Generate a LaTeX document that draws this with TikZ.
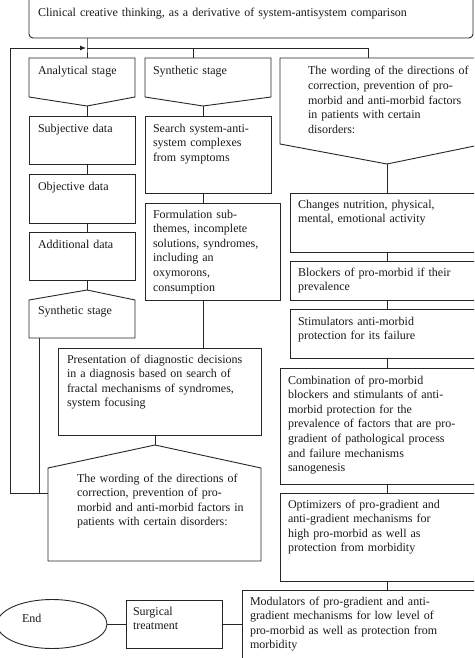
\documentclass[tikz,border=0pt]{standalone}
\usepackage{fontspec}
\setmainfont{Liberation Serif}
\usetikzlibrary{arrows.meta,shapes.geometric}
\begin{document}
\begin{tikzpicture}[x=1pt,y=-1pt,
  line/.style={draw=black!85,line width=0.9pt},
  box/.style={line,rectangle,inner sep=0pt,outer sep=0pt,anchor=north west},
  txt/.style={anchor=base west,inner sep=0pt,outer sep=0pt,text width=330pt,align=left,text=black!90,font=\fontsize{12}{14.6}\selectfont}]
\useasboundingbox (0,0) rectangle (474,658);
\clip (0,0) rectangle (474,658);
% top box
\node[box,rounded corners=4pt,minimum width=444pt,minimum height=43pt] (top) at (29,-5) {};
\node[txt,text width=440pt] (ttop) at (38,17) {Clinical creative thinking, as a derivative of system-antisystem comparison};
% key coordinates
\coordinate (j) at (87,48);
\coordinate (analT) at (87,58);
\coordinate (analB) at (87,106);
\coordinate (synthT) at (193,58);
\coordinate (synthB) at (203,106);
\coordinate (wordRT) at (368,58);
\coordinate (wordRB) at (387,164);
\coordinate (synthLT) at (87,290);
\coordinate (synthLB) at (39,338);
\coordinate (wordLT) at (155,445);
\coordinate (wordLW) at (48,493);
\coordinate (fb1) at (10,493);
\coordinate (fb2) at (10,48);
\coordinate (fb3) at (39,493);
% pentagons
\draw[line] (29,58) -- (135,58) -- (135,97) -- (analB) -- (29,97) -- cycle;
\draw[line] (145,58) -- (271,58) -- (271,97) -- (synthB) -- (145,97) -- cycle;
\draw[line] (280,58) -- (494,58) -- (494,142) -- (wordRB) -- (280,144) -- cycle;
\draw[line] (synthLT) -- (135,300) -- (135,338) -- (29,338) -- (29,300) -- cycle;
\draw[line] (wordLT) -- (261,468) -- (261,561) -- (48,561) -- (48,468) -- cycle;
\node[txt] (tanal) at (38,75) {Analytical stage};
\node[txt] (tsynth) at (153,75) {Synthetic stage};
\node[txt] (twordR) at (308,75) {The wording of the directions of\\correction, prevention of pro-\\morbid and anti-morbid factors\\in patients with certain\\disorders:};
\node[txt] (tsynthL) at (38,314) {Synthetic stage};
\node[txt] (twordL) at (77,482) {The wording of the directions of\\correction, prevention of pro-\\morbid and anti-morbid factors in\\patients with certain disorders:};
% rectangles
\node[box,minimum width=106pt,minimum height=48pt] (subj) at (29,116) {};
\node[box,minimum width=106pt,minimum height=49pt] (obj) at (29,174) {};
\node[box,minimum width=106pt,minimum height=48pt] (add) at (29,232) {};
\node[box,minimum width=126pt,minimum height=77pt] (search) at (145,116) {};
\node[box,minimum width=135pt,minimum height=97pt] (form) at (145,203) {};
\node[box,minimum width=203pt,minimum height=87pt] (pres) at (58,348) {};
\node[box,minimum width=200pt,minimum height=59pt] (changes) at (290,193) {};
\node[box,minimum width=200pt,minimum height=39pt] (block) at (290,261) {};
\node[box,minimum width=200pt,minimum height=49pt] (stim) at (290,309) {};
\node[box,minimum width=210pt,minimum height=116pt] (comb) at (280,368) {};
\node[box,minimum width=210pt,minimum height=88pt] (opt) at (280,493) {};
\node[box,minimum width=250pt,minimum height=80pt] (mod) at (242,590) {};
\node[box,minimum width=96pt,minimum height=48pt] (surg) at (126,600) {};
\node[line,ellipse,minimum width=110pt,minimum height=49pt,inner sep=0pt] (endn) at (52,624) {};
\node[txt] (tsubj) at (38,132) {Subjective data};
\node[txt] (tobj) at (38,190) {Objective data};
\node[txt] (tadd) at (38,248) {Additional data};
\node[txt] (tsearch) at (153,132) {Search system-anti-\\system complexes\\from symptoms};
\node[txt] (tform) at (153,218) {Formulation sub-\\themes, incomplete\\solutions, syndromes,\\including an\\oxymorons,\\consumption};
\node[txt] (tpres) at (67,363) {Presentation of diagnostic decisions\\in a diagnosis based on search of\\fractal mechanisms of syndromes,\\system focusing};
\node[txt] (tchanges) at (298,208) {Changes nutrition, physical,\\mental, emotional activity};
\node[txt] (tblock) at (298,276) {Blockers of pro-morbid if their\\prevalence};
\node[txt] (tstim) at (298,325) {Stimulators anti-morbid\\protection for its failure};
\node[txt] (tcomb) at (288,384) {Combination of pro-morbid\\blockers and stimulants of anti-\\morbid protection for the\\prevalence of factors that are pro-\\gradient of pathological process\\and failure mechanisms\\sanogenesis};
\node[txt] (topt) at (288,508) {Optimizers of pro-gradient and\\anti-gradient mechanisms for\\high pro-morbid as well as\\protection from morbidity};
\node[txt] (tmod) at (250,605) {Modulators of pro-gradient and anti-\\gradient mechanisms for low level of\\pro-morbid as well as protection from\\morbidity};
\node[txt] (tsurg) at (133,615) {Surgical\\treatment};
\node[txt] (tend) at (22,622) {End};
% connectors
\draw[line] (j |- top.south) -- (j) -- (analT);
\draw[line] (j) -- (synthT |- j) -- (synthT);
\draw[line] (synthT |- j) -- (wordRT |- j) -- (wordRT);
\draw[line] (analB) -- (analB |- subj.north);
\draw[line] (analB |- subj.south) -- (analB |- obj.north);
\draw[line] (analB |- obj.south) -- (analB |- add.north);
\draw[line] (analB |- add.south) -- (synthLT);
\draw[line] (synthB) -- (synthB |- search.north);
\draw[line] (synthB |- search.south) -- (synthB |- form.north);
\draw[line] (synthB |- form.south) -- (synthB |- pres.north);
\draw[line] (wordLT |- pres.south) -- (wordLT);
\draw[line] (wordRB) -- (wordRB |- changes.north);
\draw[line] (wordRB |- changes.south) -- (wordRB |- block.north);
\draw[line] (wordRB |- block.south) -- (wordRB |- stim.north);
\draw[line] (wordRB |- stim.south) -- (wordRB |- comb.north);
\draw[line] (wordRB |- comb.south) -- (wordRB |- opt.north);
\draw[line] (wordRB |- opt.south) -- (wordRB |- mod.north);
\draw[line] (surg.east) -- (surg.east -| mod.west);
\draw[line] (endn.east) -- (surg.west);
\draw[line] (synthLB) -- (fb3);
\draw[line,-{Latex[length=6pt,width=5pt]},shorten >=1pt] (wordLW) -- (fb1) -- (fb2) -- (j);
\end{tikzpicture}
\end{document}
